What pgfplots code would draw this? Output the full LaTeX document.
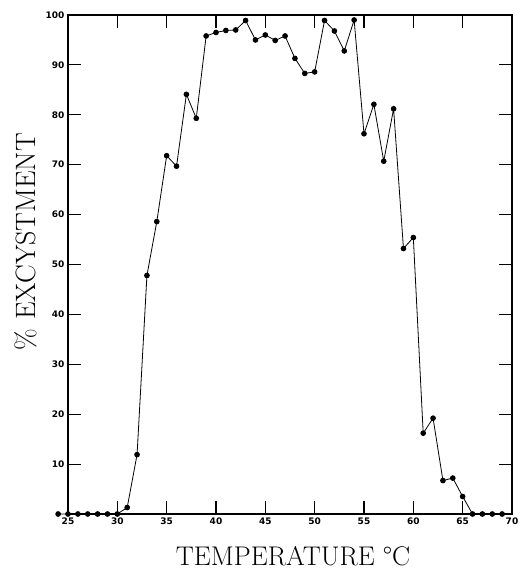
\documentclass[border=0pt]{standalone}
\usepackage{fontspec}
\newfontfamily\tickfont{DejaVu Sans}
\usepackage{pgfplots}
\pgfplotsset{compat=1.18}

\pgfplotstableread{
temp excyst
24 0
25 0
26 0
27 0
28 0
29 0
30 0
31 1.3
32 11.9
33 47.8
34 58.6
35 71.8
36 69.7
37 84.1
38 79.3
39 95.8
40 96.5
41 96.9
42 97.0
43 98.9
44 95.0
45 96.0
46 94.9
47 95.8
48 91.3
49 88.3
50 88.6
51 98.9
52 96.8
53 92.8
54 99.0
55 76.2
56 82.1
57 70.7
58 81.2
59 53.2
60 55.4
61 16.2
62 19.2
63 6.7
64 7.2
65 3.5
66 0
67 0
68 0
69 0
}\excyst

\begin{document}
\begin{tikzpicture}
% page frame: axis box is 444 x 499, placed like the scan
\useasboundingbox (-68pt,-60pt) rectangle (453pt,514pt);
\begin{axis}[
    scale only axis,
    width=444pt, height=499pt,
    xmin=25, xmax=70, ymin=0, ymax=100,
    xtick={25,30,...,70},
    ytick={10,20,...,100},
    tick align=inside,
    major tick length=13pt,
    axis line style={line width=1.1pt},
    every tick/.style={black, line width=1.1pt},
    tick label style={font=\tickfont\bfseries\fontsize{9}{10}\selectfont},
    /pgf/number format/assume math mode=true,
    clip=false,
    xlabel={TEMPERATURE °C},
    ylabel={\% EXCYSTMENT},
    xlabel style={at={(axis description cs:0.507,-0.103)}, anchor=base,
        inner sep=0pt, font=\fontsize{27}{30}\selectfont},
    ylabel style={at={(axis description cs:-0.07,0.546)}, anchor=south,
        inner sep=0pt, font=\fontsize{28}{30}\selectfont},
]
\addplot[black, line width=0.8pt, mark=*, mark size=2.4pt] table[x=temp, y=excyst] {\excyst};
\end{axis}
\end{tikzpicture}
\end{document}
